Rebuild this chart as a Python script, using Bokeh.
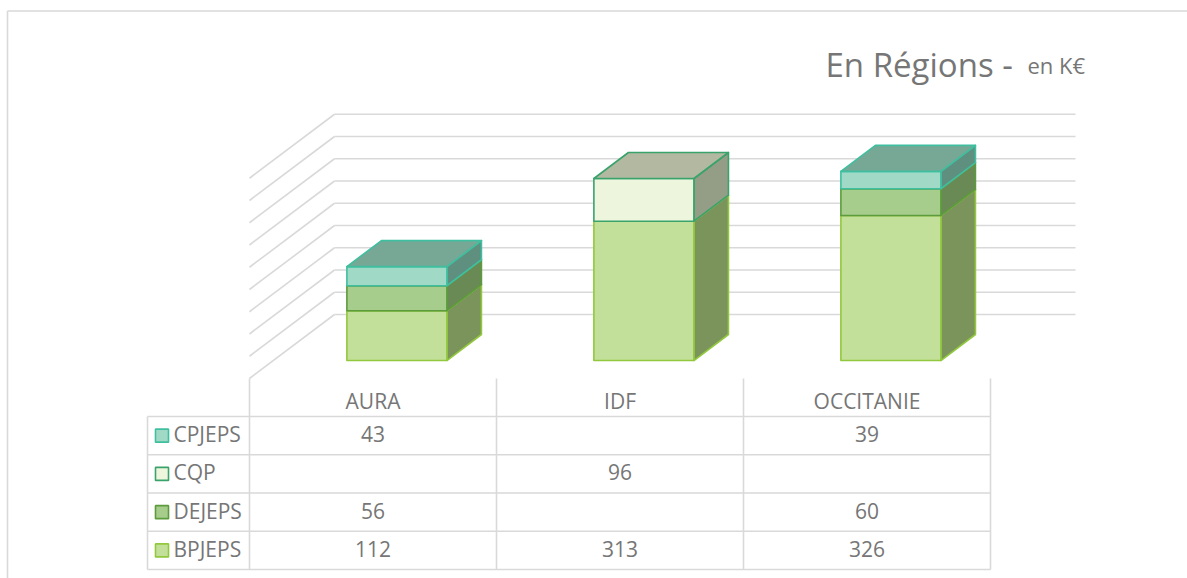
from bokeh.plotting import figure
from bokeh.models import Range1d, ColumnDataSource
from bokeh.core.properties import value
from bokeh.embed import file_html
from bokeh.resources import INLINE

# ---------------- data ----------------
categories = ["AURA", "IDF", "OCCITANIE"]
stack_order = ["BPJEPS", "DEJEPS", "CQP", "CPJEPS"]      # bottom -> top
bpjeps = [112, 313, 326]
dejeps = [56, None, 60]
cqp = [None, 96, None]
cpjeps = [43, None, 39]
table_rows = ["CPJEPS", "CQP", "DEJEPS", "BPJEPS"]       # table order top -> bottom
grid_values = [0, 50, 100, 150, 200, 250, 300, 350, 400, 450]
title_main = "En Régions -"
title_unit = "en K€"

series = {"BPJEPS": bpjeps, "DEJEPS": dejeps, "CQP": cqp, "CPJEPS": cpjeps}

# ---------------- styles ----------------
styles = {
    "BPJEPS": dict(front="#c3e09a", side="#7b945b", top="#a9c47f", line="#92c83e"),
    "DEJEPS": dict(front="#a7cd8c", side="#698a55", top="#86a872", line="#5d9c3c"),
    "CQP":    dict(front="#edf6dc", side="#949d85", top="#b2b9a0", line="#3aa36b"),
    "CPJEPS": dict(front="#a0dac6", side="#5f8f7e", top="#77a795", line="#3fbf9f"),
}
GRID = "#d9d9d9"
TXT = "#767676"
FONT = "Open Sans"
FS = "21px"

# ---------------- layout (screen px of the page) ----------------
W, H = 1187, 578
CAT_PX = 247.0      # px per category on the front plane
VAL_PX = 0.445      # px per value unit
X0, Y0 = 249.0, 378.0


def X(px):
    return (px - X0) / CAT_PX


def V(py):
    return (Y0 - py) / VAL_PX


DX = 85.0 / CAT_PX          # floor depth in data units
DV = 64.0 / VAL_PX
F0, F1 = 0.281, 0.6875      # bar depth span (fraction of floor depth)
BAR_W = 100.0 / CAT_PX

p = figure(width=W, height=H, output_backend="svg", toolbar_location=None,
           x_range=Range1d(X(0), X(W)), y_range=Range1d(V(H), V(0)),
           x_axis_type=None, y_axis_type=None, min_border=0,
           outline_line_color=None, background_fill_color="white",
           border_fill_color="white")
p.grid.visible = False

# chart area border (top and left)
p.segment(x0=[X(7), X(7)], y0=[V(10.5), V(10.5)],
          x1=[X(W), X(7)], y1=[V(10.5), V(H)],
          line_color=GRID, line_width=1.6)

# ---------------- walls / gridlines ----------------
n = len(categories)
gx0, gy0, gx1, gy1 = [], [], [], []
for g in grid_values:
    # side wall diagonal
    gx0.append(0.0); gy0.append(g); gx1.append(DX); gy1.append(g + DV)
    # back wall horizontal
    gx0.append(DX); gy0.append(g + DV); gx1.append(n + DX); gy1.append(g + DV)
p.segment(x0=gx0, y0=gy0, x1=gx1, y1=gy1, line_color=GRID, line_width=1.6)

# ---------------- 3D stacked bars ----------------
xs, ys, fills, lines = [], [], [], []
ddx, ddv = (F1 - F0) * DX, (F1 - F0) * DV
for i in range(n):
    base = 0.0
    xl = i + 0.5 - BAR_W / 2 + F0 * DX
    xr = xl + BAR_W
    for s in stack_order:
        v = series[s][i]
        if v is None:
            continue
        top = base + v
        b, t = base + F0 * DV, top + F0 * DV
        st = styles[s]
        # side face
        xs.append([xr, xr + ddx, xr + ddx, xr]); ys.append([b, b + ddv, t + ddv, t])
        fills.append(st["side"]); lines.append(st["line"])
        # front face
        xs.append([xl, xr, xr, xl]); ys.append([b, b, t, t])
        fills.append(st["front"]); lines.append(st["line"])
        # top face
        xs.append([xl, xr, xr + ddx, xl + ddx]); ys.append([t, t, t + ddv, t + ddv])
        fills.append(st["top"]); lines.append(st["line"])
        base = top
src = ColumnDataSource(dict(xs=xs, ys=ys, fill=fills, line=lines))
p.patches("xs", "ys", source=src, fill_color="fill", line_color="line",
          line_width=1.6, line_join="round")

# ---------------- data table ----------------
T_LEFT = 147.0
T_HEAD_TOP = 378.0
T_TOP = 416.0
ROW_H = 38.25
n_rows = len(table_rows)
t_bottom = T_TOP + ROW_H * n_rows

sx0, sy0, sx1, sy1 = [], [], [], []
for k in range(n + 1):
    sx0.append(float(k)); sy0.append(V(T_HEAD_TOP)); sx1.append(float(k)); sy1.append(V(t_bottom))
sx0.append(X(T_LEFT)); sy0.append(V(T_TOP)); sx1.append(X(T_LEFT)); sy1.append(V(t_bottom))
for r in range(n_rows + 1):
    yy = V(T_TOP + ROW_H * r)
    sx0.append(X(T_LEFT)); sy0.append(yy); sx1.append(float(n)); sy1.append(yy)
p.segment(x0=sx0, y0=sy0, x1=sx1, y1=sy1, line_color=GRID, line_width=1.6)

# header
p.text(x=[i + 0.5 for i in range(n)], y=[V(400.5)] * n, text=categories,
       text_align="center", text_baseline="middle", text_color=TXT,
       text_font=value(FONT), text_font_size=FS)

# rows
tx, ty, tt = [], [], []
kx, ky, kf, kl = [], [], [], []
lx, ly, lt = [], [], []
for r, s in enumerate(table_rows):
    yc = V(T_TOP + ROW_H * (r + 0.5) - 1.5)
    kc = V(T_TOP + ROW_H * (r + 0.5))
    lx.append(X(173)); ly.append(yc); lt.append(s)
    kx.append(X(161.5)); ky.append(kc)
    kf.append(styles[s]["front"]); kl.append(styles[s]["line"])
    for i in range(n):
        v = series[s][i]
        if v is None:
            continue
        tx.append(i + 0.5); ty.append(yc); tt.append(str(v))
p.text(x=tx, y=ty, text=tt, text_align="center", text_baseline="middle",
       text_color=TXT, text_font=value(FONT), text_font_size=FS)
p.text(x=lx, y=ly, text=lt, text_align="left", text_baseline="middle",
       text_color=TXT, text_font=value(FONT), text_font_size=FS)
p.rect(x=kx, y=ky, width=13.0 / CAT_PX, height=13.0 / VAL_PX,
       fill_color=kf, line_color=kl, line_width=1.6)

# ---------------- title ----------------
p.text(x=[X(825)], y=[V(64)], text=[title_main], text_align="left",
       text_baseline="alphabetic", text_color=TXT, text_font=value(FONT),
       text_font_size="33px")
p.text(x=[X(1027)], y=[V(64)], text=[title_unit], text_align="left",
       text_baseline="alphabetic", text_color=TXT, text_font=value(FONT),
       text_font_size="22px")

open("out.html", "w").write(file_html(p, INLINE))
